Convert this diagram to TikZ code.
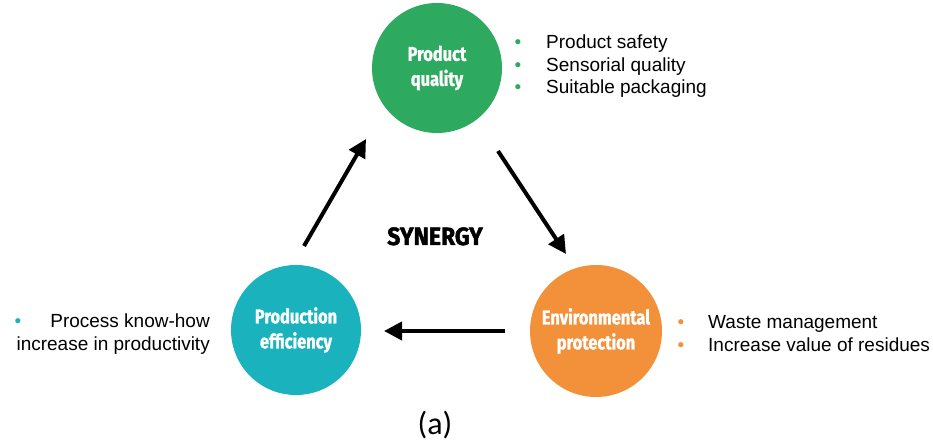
\documentclass[tikz,border=0pt]{standalone}
\usepackage{fontspec}
\setmainfont{Liberation Sans}
\newfontfamily\labelfont[FakeStretch=0.82,FakeBold=1.2]{Fira Sans}
\newfontfamily\synfont[FakeStretch=0.92,FakeBold=1.8]{Fira Sans}
\newfontfamily\capfont{Carlito}
\usetikzlibrary{arrows.meta}
\definecolor{pqgreen}{HTML}{2DAA5F}
\definecolor{peteal}{HTML}{19B2BD}
\definecolor{eporange}{HTML}{F3903A}
\tikzset{
  blob/.style={circle, minimum size=130pt, inner sep=0pt, text=white, align=center,
    font=\labelfont\bfseries\fontsize{20}{25}\selectfont},
  arr/.style={line width=4pt, -{Triangle[length=18pt,width=18pt]}},
  itemtext/.style={font=\fontsize{19}{22.5}\selectfont, inner sep=0pt},
  dot/.style={font=\fontsize{19}{22.5}\selectfont, inner sep=0pt, anchor=base}
}
\begin{document}
\begin{tikzpicture}[x=1pt,y=-1pt]
\useasboundingbox (0,0) rectangle (933,443);
\node[blob, fill=pqgreen] (pq) at (437,68) {Product\\quality};
\node[blob, fill=peteal] (pe) at (296,330) {Production\\efficiency};
\node[blob, fill=eporange, minimum size=132pt] (ep) at (596,331) {Environmental\\protection};

\coordinate (a1s) at (304,246); \coordinate (a1e) at (366,139);
\coordinate (a2s) at (498,151); \coordinate (a2e) at (566,254);
\coordinate (a3s) at (505,331); \coordinate (a3e) at (384,331);
\draw[arr] (a1s) -- (a1e);
\draw[arr] (a2s) -- (a2e);
\draw[arr] (a3s) -- (a3e);

\node[font=\synfont\bfseries\fontsize{25}{28}\selectfont, inner sep=0pt, anchor=base] (syn) at (435,245) {SYNERGY};

\node[dot, text=pqgreen] (b1) at (518,49) {•};
\node[itemtext, anchor=base west] (t1) at (546,49) {Product safety};
\node[dot, text=pqgreen] (b2) at (518,71.5) {•};
\node[itemtext, anchor=base west] (t2) at (546,71.5) {Sensorial quality};
\node[dot, text=pqgreen] (b3) at (518,94) {•};
\node[itemtext, anchor=base west] (t3) at (546,94) {Suitable packaging};

\node[dot, text=peteal] (b4) at (18,327) {•};
\node[itemtext, anchor=base east] (t4) at (210,327) {Process know-how};
\node[itemtext, anchor=base east] (t5) at (210,350) {increase in productivity};

\node[dot, text=eporange] (b6) at (681,328) {•};
\node[itemtext, anchor=base west] (t6) at (708,328) {Waste management};
\node[dot, text=eporange] (b7) at (681,351) {•};
\node[itemtext, anchor=base west] (t7) at (708,351) {Increase value of residues};

\node[font=\capfont\fontsize{32}{36}\selectfont, inner sep=0pt, anchor=base] (cap) at (435,434) {(a)};
\end{tikzpicture}
\end{document}
